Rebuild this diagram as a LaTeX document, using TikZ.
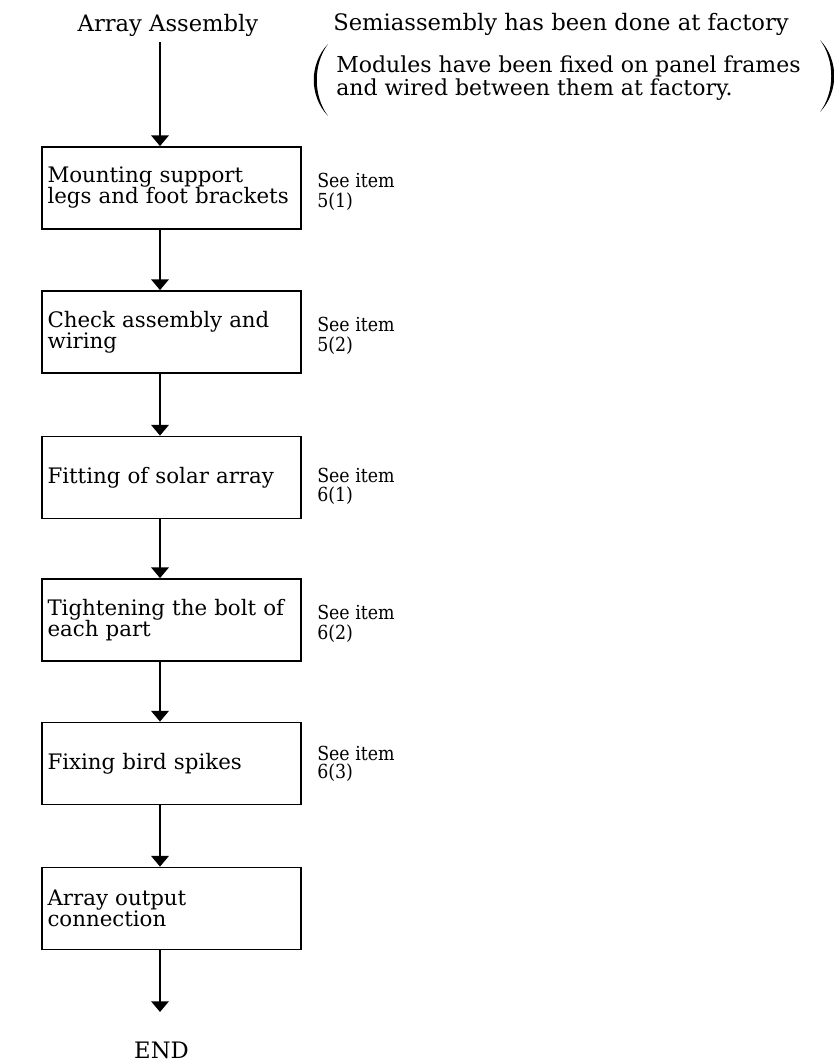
\documentclass[tikz,border=0pt]{standalone}
\usepackage{fontspec}
\setmainfont{DejaVu Serif}
\newfontfamily\notefont[FakeStretch=0.9]{DejaVu Serif}
\usetikzlibrary{arrows.meta}

\tikzset{
  stepbox/.style={draw, line width=1.3pt, minimum width=194.25pt, minimum height=61.5pt,
    inner xsep=4pt, text width=186pt, align=left, font=\fontsize{16}{15.75}\selectfont},
  flow/.style={-{Triangle[width=13pt,length=8pt]}, line width=1.5pt},
  note/.style={anchor=base west, inner sep=0pt, font=\notefont\fontsize{14.5}{17}\selectfont},
  head/.style={inner xsep=0pt, inner ysep=4.5pt, font=\fontsize{17}{18}\selectfont},
  remark/.style={anchor=base west, inner sep=0pt, font=\fontsize{16.5}{18}\selectfont},
  paren/.style={fill=black}
}

\begin{document}
\begin{tikzpicture}[x=0.75pt,y=-0.75pt]
  % page area
  \fill[white] (0,0) rectangle (834,1064);
  \useasboundingbox (0,0) rectangle (834,1064);

  % headings
  \node[head, anchor=base] (title) at (168,31) {Array Assembly};
  \node[head, anchor=base west, inner ysep=0pt] (semi) at (333,30) {Semiassembly has been done at factory};
  \node[remark] (mod1) at (336,72) {Modules have been fixed on panel frames};
  \node[remark] (mod2) at (336,95) {and wired between them at factory.};

  % large parentheses around the remark
  \fill[paren] (328,44) .. controls (309,64) and (309,96) .. (328,116)
               .. controls (313,96) and (313,64) .. (328,44) -- cycle;
  \fill[paren] (820,40) .. controls (839,60) and (839,92) .. (820,112)
               .. controls (835,92) and (835,60) .. (820,40) -- cycle;

  % process steps
  \node[stepbox] (b1) at (171.5,188)   {Mounting support\\legs and foot brackets};
  \node[stepbox] (b2) at (171.5,332)   {Check assembly and\\wiring};
  \node[stepbox] (b3) at (171.5,477.5) {Fitting of solar array};
  \node[stepbox] (b4) at (171.5,620)   {Tightening the bolt of\\each part};
  \node[stepbox] (b5) at (171.5,763.5) {Fixing bird spikes};
  \node[stepbox] (b6) at (171.5,908.5) {Array output\\connection};

  % references
  \node[note] (s1a) at (317,187) {See item};
  \node[note] (s1b) at (317,207) {5(1)};
  \node[note] (s2a) at (317,331) {See item};
  \node[note] (s2b) at (317,351) {5(2)};
  \node[note] (s3a) at (317,482) {See item};
  \node[note] (s3b) at (317,501) {6(1)};
  \node[note] (s4a) at (317,619) {See item};
  \node[note] (s4b) at (317,639) {6(2)};
  \node[note] (s5a) at (317,760) {See item};
  \node[note] (s5b) at (317,778) {6(3)};

  % end label
  \node[head, anchor=base, inner ysep=0pt] (finish) at (161.5,1058) {END};

  % flow arrows
  \coordinate (ax) at (160,0);
  \coordinate (endtip) at (160,1012);
  \draw[flow] (title.south -| ax) -- (b1.north -| ax);
  \draw[flow] (b1.south -| ax) -- (b2.north -| ax);
  \draw[flow] (b2.south -| ax) -- (b3.north -| ax);
  \draw[flow] (b3.south -| ax) -- (b4.north -| ax);
  \draw[flow] (b4.south -| ax) -- (b5.north -| ax);
  \draw[flow] (b5.south -| ax) -- (b6.north -| ax);
  \draw[flow] (b6.south -| ax) -- (endtip);
\end{tikzpicture}
\end{document}
